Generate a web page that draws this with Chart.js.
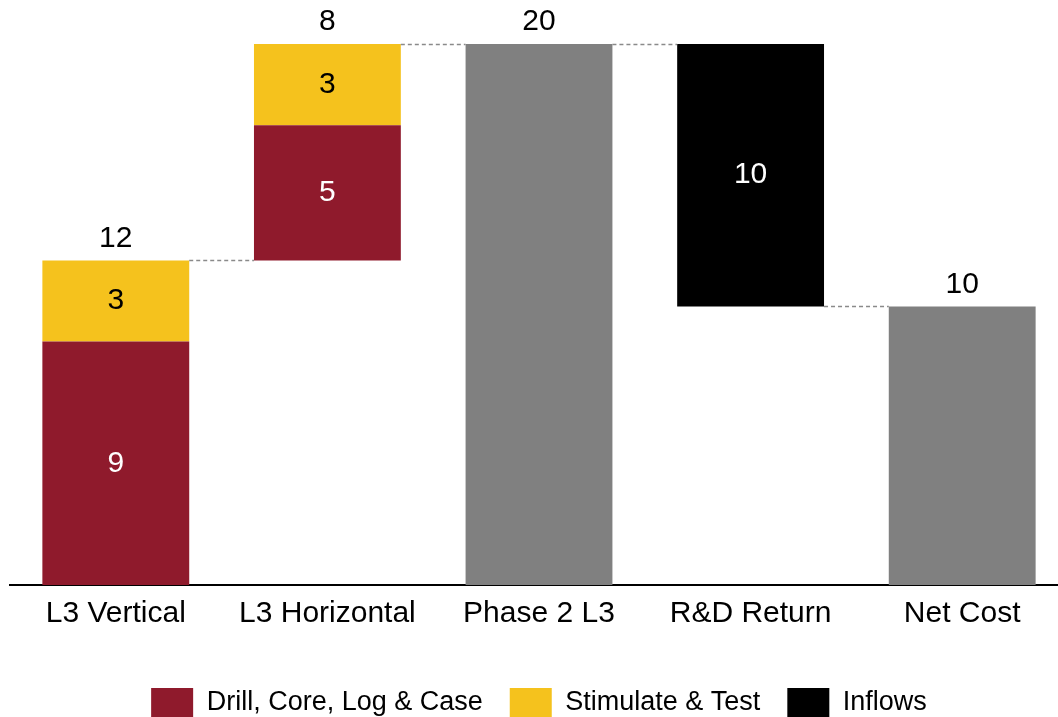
<!DOCTYPE html>
<html>
<head>
<meta charset="utf-8">
<script src="https://cdn.jsdelivr.net/npm/chart.js@4.4.0/dist/chart.umd.min.js"></script>
<style>
  html, body { margin: 0; padding: 0; overflow: hidden; background: #fff; }
  #wrap { width: 1068px; height: 728px; position: relative; }
</style>
</head>
<body>
<div id="wrap"><canvas id="wfChart"></canvas></div>
<script>
    // data
    var categories = ['L3 Vertical', 'L3 Horizontal', 'Phase 2 L3', 'R&D Return', 'Net Cost'];
    var drill   = [9, 5, null, null, null];
    var stim    = [3, 3, null, null, null];
    var inflows = [null, null, null, 9.7, null];
    var totals  = [null, null, 20, null, 10.3];

    var RED = '#8f1a2c', YELLOW = '#f5c21d', GRAY = '#808080', BLACK = '#000000';
    var FONT = '"Liberation Sans", Arial, sans-serif';

    // running level -> floating ranges
    var drillR = [], stimR = [], inflowR = [], totalR = [], ends = [];
    var level = 0;
    for (var i = 0; i < categories.length; i++) {
        drillR.push(null); stimR.push(null); inflowR.push(null); totalR.push(null);
        if (totals[i] !== null) {
            totalR[i] = [0, totals[i]];
            level = totals[i];
        } else if (inflows[i] !== null) {
            inflowR[i] = [level - inflows[i], level];
            level = level - inflows[i];
        } else {
            drillR[i] = [level, level + drill[i]];
            stimR[i] = [level + drill[i], level + drill[i] + stim[i]];
            level = level + drill[i] + stim[i];
        }
        ends.push(level);
    }

    const labelPlugin = {
        id: 'wfLabels',
        afterDatasetsDraw(chart) {
            const ctx = chart.ctx;
            const y = chart.scales.y;
            ctx.save();
            ctx.font = '30px ' + FONT;
            ctx.textAlign = 'center';
            ctx.textBaseline = 'middle';

            // segment labels
            const inner = [
                {ds: 0, vals: drill, color: '#ffffff'},
                {ds: 1, vals: stim, color: '#000000'},
                {ds: 2, vals: inflows, color: '#ffffff'}
            ];
            inner.forEach(function (s) {
                const meta = chart.getDatasetMeta(s.ds);
                meta.data.forEach(function (el, i) {
                    if (s.vals[i] === null) return;
                    ctx.fillStyle = s.color;
                    ctx.fillText(Math.round(s.vals[i]), el.x, (el.y + el.base) / 2);
                });
            });

            // top labels
            ctx.fillStyle = '#000000';
            for (let i = 0; i < categories.length; i++) {
                let txt = null, top = null;
                if (drill[i] !== null) { txt = drill[i] + stim[i]; top = stimR[i][1]; }
                else if (totals[i] !== null) { txt = Math.round(totals[i]); top = totals[i]; }
                if (txt === null) continue;
                const el = chart.getDatasetMeta(0).data[i];
                ctx.fillText(txt, el.x, y.getPixelForValue(top) - 22);
            }

            // dashed connectors
            ctx.strokeStyle = '#8a8a8a';
            ctx.lineWidth = 1.5;
            ctx.setLineDash([4, 3]);
            const els = chart.getDatasetMeta(0).data;
            const w = chart.scales.x.width / categories.length * 0.694;
            for (let i = 0; i < categories.length - 1; i++) {
                const a = els[i], b = els[i + 1];
                const py = Math.round(y.getPixelForValue(ends[i])) + 0.5;
                ctx.beginPath();
                ctx.moveTo(a.x + w / 2, py);
                ctx.lineTo(b.x - w / 2, py);
                ctx.stroke();
            }
            ctx.restore();
        }
    };

    var myChart = new Chart(document.getElementById('wfChart').getContext('2d'), {
        type: 'bar',
        data: {
            labels: categories,
            datasets: [
                { label: 'Drill, Core, Log & Case', data: drillR, backgroundColor: RED },
                { label: 'Stimulate & Test', data: stimR, backgroundColor: YELLOW },
                { label: 'Inflows', data: inflowR, backgroundColor: BLACK },
                { label: 'Total', data: totalR, backgroundColor: GRAY }
            ]
        },
        options: {
            responsive: true,
            maintainAspectRatio: false,
            animation: false,
            layout: { padding: { left: 10, right: 0, top: 44, bottom: 0 } },
            datasets: { bar: { categoryPercentage: 0.694, barPercentage: 1, borderWidth: 0 } },
            plugins: {
                legend: {
                    position: 'bottom',
                    labels: {
                        filter: function (item) { return item.text !== 'Total'; },
                        boxWidth: 42,
                        boxHeight: 30,
                        padding: 27,
                        color: '#000000',
                        font: { family: FONT, size: 27 }
                    }
                },
                tooltip: { enabled: false }
            },
            scales: {
                x: {
                    stacked: true,
                    grid: { display: false },
                    border: { display: true, color: '#000000', width: 2 },
                    ticks: { color: '#000000', padding: 3, font: { family: FONT, size: 30 } },
                    afterFit: function (s) { s.height += 26; }
                },
                y: {
                    display: false,
                    min: 0,
                    max: 20
                }
            }
        },
        plugins: [labelPlugin]
    });
</script>
</body>
</html>
